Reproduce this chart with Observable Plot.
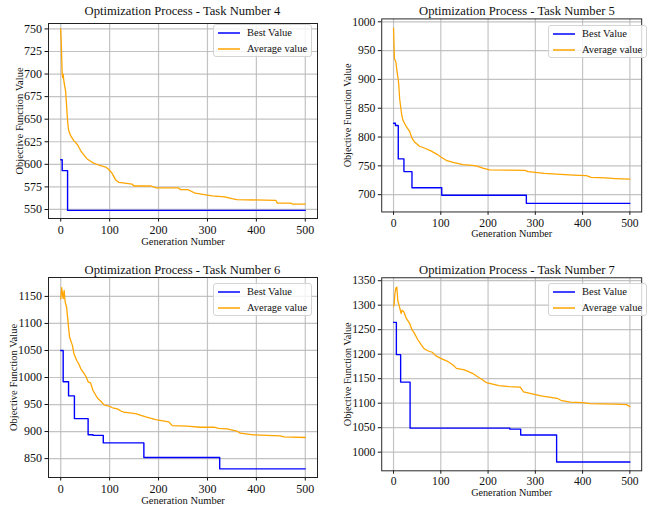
<!DOCTYPE html>
<html><head><meta charset="utf-8">
<script src="https://cdn.jsdelivr.net/npm/d3@7"></script>
<script src="https://cdn.jsdelivr.net/npm/@observablehq/plot@0.6"></script>
<style>
body{margin:0;background:#fff;}
#root{position:relative;width:648px;height:508px;overflow:hidden;background:#fff;font-family:"Liberation Serif","Times New Roman",serif;color:#111;}
.panel{position:absolute;}
.panel svg text{font-family:"Liberation Serif","Times New Roman",serif;}
.title{position:absolute;transform:translate(-50%,-50%);font-size:12.6px;white-space:nowrap;}
.legend{position:absolute;box-sizing:border-box;width:99px;height:33px;border:1px solid #d4d4d4;border-radius:3px;background:rgba(255,255,255,0.8);font-size:10.5px;}
.row{position:absolute;left:0;height:14px;width:100%;}
.sw{position:absolute;left:3px;top:0;}
.lb{position:absolute;left:33px;top:0;line-height:14px;white-space:nowrap;}
</style>
</head><body><div id="root"></div>
<script>
// ---- data ----
const seriesNames = ["Best Value", "Average value"];
const taskNumbers = [4, 5, 6, 7];
const xTicks = [0, 100, 200, 300, 400, 500];
const yTicks4 = [550, 575, 600, 625, 650, 675, 700, 725, 750];
const yTicks5 = [700, 750, 800, 850, 900, 950, 1000];
const yTicks6 = [850, 900, 950, 1000, 1050, 1100, 1150];
const yTicks7 = [1000, 1050, 1100, 1150, 1200, 1250, 1300, 1350];

const best4Gen = [0, 3, 14, 500];
const best4Val = [605, 593, 549, 549];
const avg4Gen = [0, 1, 2, 3, 4, 5, 6, 8, 10, 12, 14, 16, 20, 27, 34, 41, 48, 54, 65, 78, 92, 99, 105, 112, 119, 146, 150, 185, 195, 240, 245, 260, 275, 300, 310, 335, 350, 360, 440, 443, 470, 475, 500];
const avg4Val = [750, 735, 718, 700, 696, 700, 694, 687, 681, 665, 648, 638, 632, 626, 622, 615, 610, 606, 602, 599, 597, 594, 590, 583, 580, 578, 576, 576, 574, 574, 572, 572, 568, 566, 565, 564, 562, 561, 560, 557, 557, 556, 556];

const best5Gen = [0, 4, 10, 22, 39, 102, 281, 500];
const best5Val = [824, 820, 762, 740, 712, 699, 685, 685];
const avg5Gen = [0, 1, 2, 5, 7, 9, 11, 13, 17, 20, 27, 34, 39, 44, 55, 65, 79, 92, 101, 113, 126, 147, 167, 175, 189, 203, 278, 285, 319, 380, 408, 418, 449, 469, 500];
const avg5Val = [989, 960, 936, 930, 916, 905, 892, 866, 840, 829, 818, 810, 798, 792, 784, 781, 776, 770, 765, 759, 756, 752, 751, 750, 746, 743, 742, 740, 737, 734, 733, 730, 729, 728, 727];

const best6Gen = [0, 5, 16, 28, 56, 66, 87, 170, 325, 500];
const best6Val = [1050, 992, 966, 924, 894, 893, 879, 852, 831, 831];
const avg6Gen = [0, 2, 4, 5, 7, 9, 12, 15, 18, 24, 27, 33, 37, 41, 48, 52, 56, 61, 66, 70, 75, 82, 89, 99, 106, 116, 123, 129, 153, 174, 194, 215, 221, 228, 258, 285, 313, 323, 340, 360, 367, 394, 422, 449, 456, 500];
const avg6Val = [1146, 1166, 1152, 1146, 1161, 1140, 1130, 1102, 1075, 1059, 1044, 1031, 1025, 1016, 1007, 1001, 992, 990, 976, 970, 962, 956, 949, 947, 944, 942, 938, 936, 933, 927, 922, 919, 918, 911, 910, 908, 908, 906, 905, 901, 897, 894, 893, 892, 890, 889];

const best7Gen = [0, 6, 15, 35, 246, 269, 345, 500];
const best7Val = [1265, 1199, 1143, 1049, 1047, 1035, 980, 980];
const avg7Gen = [0, 1, 3, 5, 7, 9, 12, 16, 18, 22, 27, 34, 39, 44, 51, 58, 65, 72, 82, 89, 99, 113, 126, 133, 150, 167, 178, 188, 196, 201, 223, 244, 268, 275, 298, 312, 346, 356, 374, 401, 415, 469, 493, 500];
const avg7Val = [1298, 1299, 1325, 1335, 1337, 1309, 1299, 1283, 1290, 1286, 1273, 1263, 1250, 1243, 1230, 1220, 1211, 1207, 1204, 1197, 1192, 1186, 1178, 1171, 1168, 1161, 1154, 1148, 1142, 1141, 1136, 1134, 1133, 1123, 1118, 1115, 1110, 1105, 1102, 1101, 1099, 1098, 1097, 1093];

// ---- layout ----
const zip = (g, v) => g.map((d, i) => ({gen: d, value: v[i]}));
const panels = [
  {best: zip(best4Gen, best4Val), avg: zip(avg4Gen, avg4Val), yTicks: yTicks4, yDomain: [540, 756],
   left: 0, top: 0, width: 324, mL: 48, mR: 7, mT: 23, mB: 36, yLab: 33, legend: [213, 24], title: [182.5, 11]},
  {best: zip(best5Gen, best5Val), avg: zip(avg5Gen, avg5Val), yTicks: yTicks5, yDomain: [670, 1005],
   left: 324, top: 0, width: 334, mL: 59, mR: 7, mT: 19, mB: 36, yLab: 39, legend: [548, 25], title: [517, 11]},
  {best: zip(best6Gen, best6Val), avg: zip(avg6Gen, avg6Val), yTicks: yTicks6, yDomain: [815, 1185],
   left: 0, top: 254, width: 324, mL: 48, mR: 7, mT: 23, mB: 31, yLab: 39, legend: [213, 283], title: [182.5, 270]},
  {best: zip(best7Gen, best7Val), avg: zip(avg7Gen, avg7Val), yTicks: yTicks7, yDomain: [962, 1356],
   left: 324, top: 254, width: 334, mL: 59, mR: 7, mT: 24, mB: 31, yLab: 39, legend: [548, 283], title: [517, 270]}
];

const root = document.getElementById("root");
const gridStyle = {stroke: "#b8b8b8", strokeOpacity: 0.85, strokeWidth: 1.2};
const serif = "Liberation Serif, Times New Roman, serif";
const fmt = d3.format("d");

panels.forEach((p, i) => {
  const chart = Plot.plot({
    width: p.width, height: 254,
    marginLeft: p.mL, marginRight: p.mR, marginTop: p.mT, marginBottom: p.mB,
    style: {fontFamily: serif, fontSize: "10.5px", color: "#111", background: "transparent", overflow: "visible"},
    x: {domain: [-25, 525]},
    y: {domain: p.yDomain},
    marks: [
      Plot.gridX(xTicks, gridStyle),
      Plot.gridY(p.yTicks, gridStyle),
      Plot.axisX(xTicks, {tickSize: 3.5, tickPadding: 3, fontSize: 12, fontFamily: serif, tickFormat: fmt, label: null}),
      Plot.axisX({ticks: [], tickSize: 0, label: "Generation Number", labelAnchor: "center", labelArrow: "none", labelOffset: 26, fontSize: 10.5, fontFamily: serif}),
      Plot.axisY(p.yTicks, {tickSize: 3.5, tickPadding: 3, fontSize: 12, fontFamily: serif, tickFormat: fmt, label: null}),
      Plot.axisY({ticks: [], tickSize: 0, label: "Objective Function Value", labelAnchor: "center", labelArrow: "none", labelOffset: p.yLab, fontSize: 10.5, fontFamily: serif}),
      Plot.line(p.avg, {x: "gen", y: "value", stroke: "orange", strokeWidth: 1.3}),
      Plot.line(p.best, {x: "gen", y: "value", stroke: "blue", strokeWidth: 1.4, curve: "step-after"}),
      Plot.frame({stroke: "#222", strokeWidth: 1})
    ]
  });
  const wrap = document.createElement("div");
  wrap.className = "panel";
  wrap.style.left = p.left + "px";
  wrap.style.top = p.top + "px";
  wrap.appendChild(chart);
  root.appendChild(wrap);

  const t = document.createElement("div");
  t.className = "title";
  t.style.left = p.title[0] + "px";
  t.style.top = p.title[1] + "px";
  t.textContent = "Optimization Process - Task Number " + taskNumbers[i];
  root.appendChild(t);

  const lg = document.createElement("div");
  lg.className = "legend";
  lg.style.left = p.legend[0] + "px";
  lg.style.top = p.legend[1] + "px";
  const colors = ["blue", "orange"];
  seriesNames.forEach((name, k) => {
    const r = document.createElement("div");
    r.className = "row";
    r.style.top = (1 + k * 16) + "px";
    r.innerHTML = `<svg class="sw" width="24" height="14"><line x1="1" x2="23" y1="7" y2="7" stroke="${colors[k]}" stroke-width="1.5"/></svg>`;
    const lb = document.createElement("div");
    lb.className = "lb";
    lb.textContent = name;
    r.appendChild(lb);
    lg.appendChild(r);
  });
  root.appendChild(lg);
});
</script>
</body></html>
